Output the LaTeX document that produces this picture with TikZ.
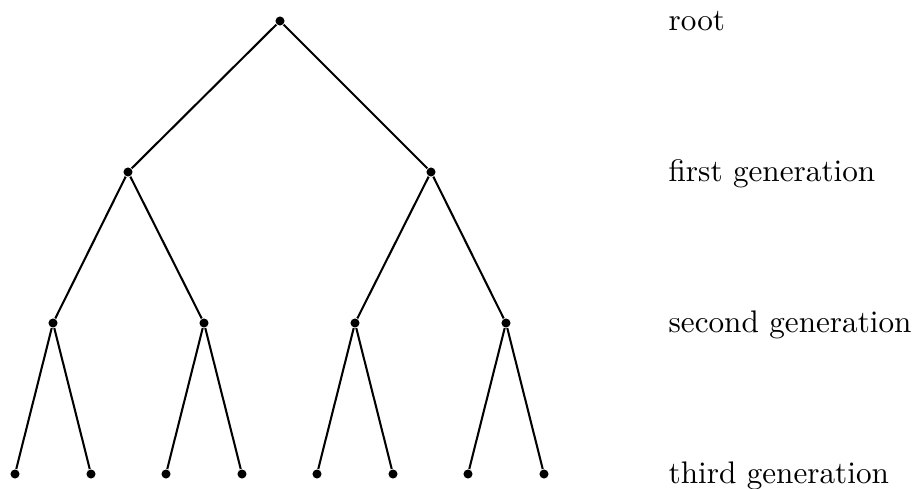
\documentclass[tikz,border=0pt]{standalone}
\begin{document}
\begin{tikzpicture}[x=0.3205pt,y=-0.3205pt,
  dot/.style={circle,fill=black,inner sep=0pt,minimum size=2.9pt},
  edge/.style={line width=0.66pt},
  lbl/.style={anchor=base west,inner sep=0pt}]
\useasboundingbox (0,0) rectangle (914,488);
\node[dot] (r) at (280,21) {};
\node[dot] (a) at (128,172) {};
\node[dot] (b) at (431,172) {};
\node[dot] (aa) at (53,323) {};
\node[dot] (ab) at (204,323) {};
\node[dot] (ba) at (355,323) {};
\node[dot] (bb) at (506,323) {};
\node[dot] (t1) at (15,474) {};
\node[dot] (t2) at (91,474) {};
\node[dot] (t3) at (166,474) {};
\node[dot] (t4) at (242,474) {};
\node[dot] (t5) at (317,474) {};
\node[dot] (t6) at (393,474) {};
\node[dot] (t7) at (468,474) {};
\node[dot] (t8) at (544,474) {};
\draw[edge] (r) -- (a); \draw[edge] (r) -- (b);
\draw[edge] (a) -- (aa); \draw[edge] (a) -- (ab);
\draw[edge] (b) -- (ba); \draw[edge] (b) -- (bb);
\draw[edge] (aa) -- (t1); \draw[edge] (aa) -- (t2);
\draw[edge] (ab) -- (t3); \draw[edge] (ab) -- (t4);
\draw[edge] (ba) -- (t5); \draw[edge] (ba) -- (t6);
\draw[edge] (bb) -- (t7); \draw[edge] (bb) -- (t8);
\node[lbl] (l0) at (668,30) {root};
\node[lbl] (l1) at (668,181) {first generation};
\node[lbl] (l2) at (668,332) {second generation};
\node[lbl] (l3) at (668,483) {third generation};
\end{tikzpicture}
\end{document}
